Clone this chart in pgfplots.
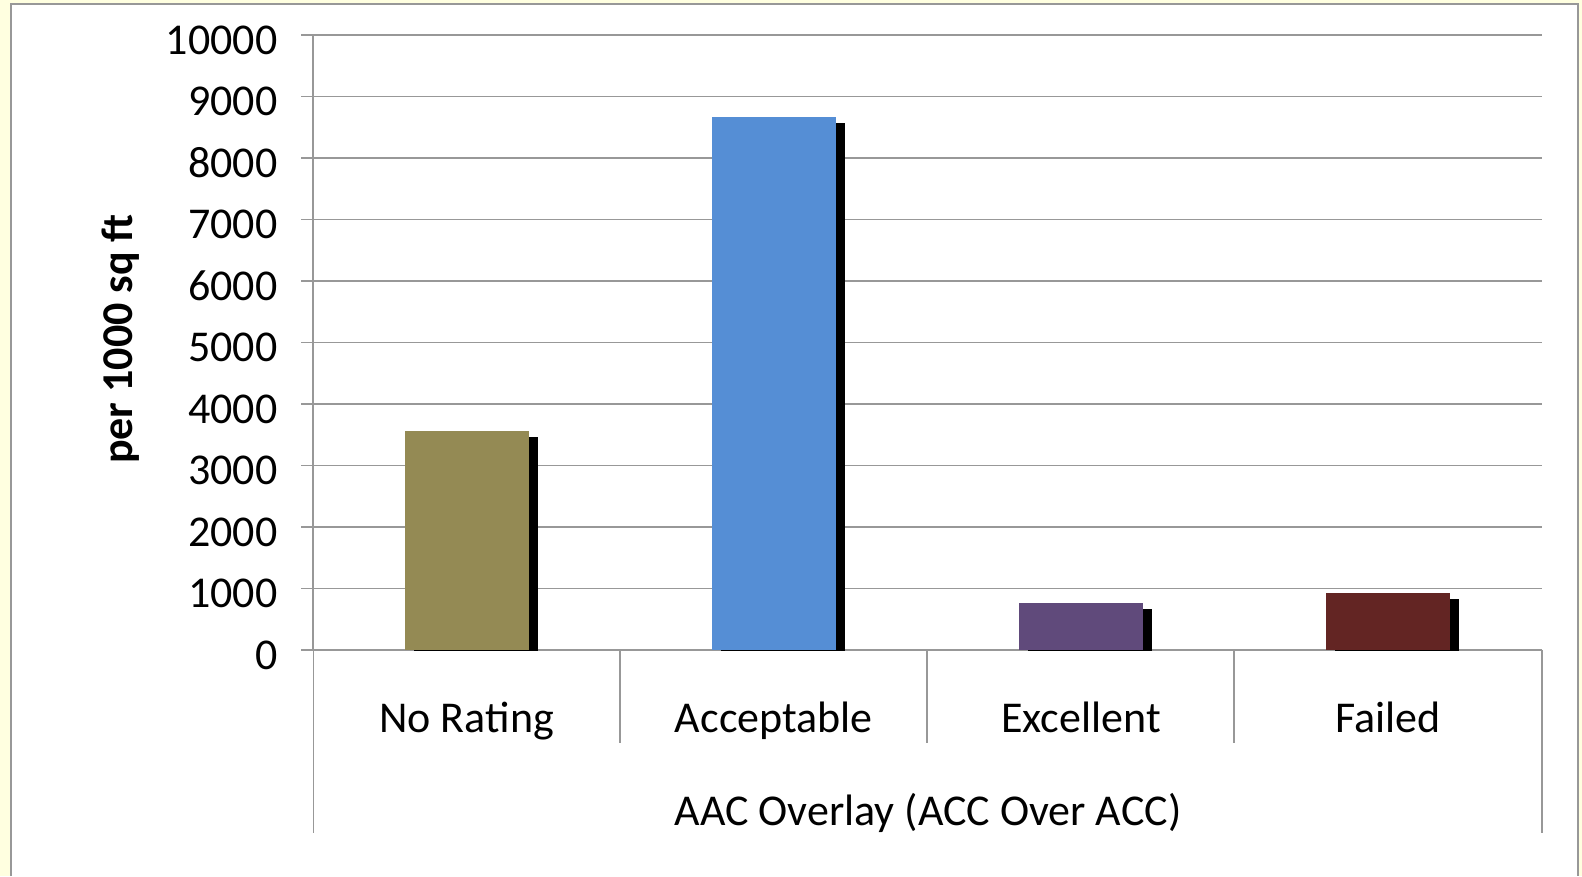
\documentclass[border=0pt]{standalone}
\usepackage{pgfplots}
\pgfplotsset{compat=1.18}
\usepackage{fontspec}
\setmainfont{Carlito}
\usetikzlibrary{shadows}
\definecolor{bgyellow}{RGB}{255,255,224}
\definecolor{gridgray}{RGB}{152,152,152}
\definecolor{barolive}{RGB}{148,138,84}
\definecolor{barblue}{RGB}{85,142,213}
\definecolor{barpurple}{RGB}{96,74,123}
\definecolor{barred}{RGB}{99,37,35}
\begin{document}
\begin{tikzpicture}[x=1pt,y=1pt]
\useasboundingbox (0,0) rectangle (1582,876);
\fill[bgyellow] (0,0) rectangle (1582,876);
\fill[white] (11,0) rectangle (1578,872);
\draw[gridgray, line width=2pt] (11,0) -- (11,872) -- (1578,872) -- (1578,0);
\begin{axis}[
  at={(313pt,226pt)}, anchor=south west, scale only axis,
  width=1229pt, height=615pt,
  xmin=-0.5, xmax=3.5, ymin=0, ymax=10000,
  axis x line=bottom, axis y line=left,
  axis line style={-, draw=gridgray, line width=1.5pt},
  ytick={0,1000,...,10000}, ymajorgrids,
  scaled y ticks=false,
  grid style={gridgray, line width=1.3pt},
  tick align=outside, major tick length=12pt,
  tick style={gridgray, line width=1.3pt},
  xtick={0,1,2,3}, xticklabels={No Rating,Acceptable,Excellent,Failed},
  xtick style={draw=none},
  font=\fontsize{44}{53}\selectfont,
  /pgf/number format/assume math mode=true,
  /pgf/number format/1000 sep={},
  yticklabel style={anchor=east, xshift=-20pt, yshift=-5pt},
  xticklabel style={anchor=base, yshift=-70pt},
]
\addplot[ybar, bar width=124pt, bar shift=0pt, fill=barolive, draw=none,
  drop shadow={shadow xshift=9pt, shadow yshift=-6pt, fill=black, opacity=1}]
  coordinates {(0,3565)};
\addplot[ybar, bar width=124pt, bar shift=0pt, fill=barblue, draw=none,
  drop shadow={shadow xshift=9pt, shadow yshift=-6pt, fill=black, opacity=1}]
  coordinates {(1,8660)};
\addplot[ybar, bar width=124pt, bar shift=0pt, fill=barpurple, draw=none,
  drop shadow={shadow xshift=9pt, shadow yshift=-6pt, fill=black, opacity=1}]
  coordinates {(2,765)};
\addplot[ybar, bar width=124pt, bar shift=0pt, fill=barred, draw=none,
  drop shadow={shadow xshift=9pt, shadow yshift=-6pt, fill=black, opacity=1}]
  coordinates {(3,930)};
\end{axis}
% category separators
\draw[gridgray, line width=1.5pt] (313.5,226) -- (313.5,43);
\draw[gridgray, line width=1.5pt] (1542,226) -- (1542,43);
\draw[gridgray, line width=1.3pt] (620,226) -- (620,133);
\draw[gridgray, line width=1.3pt] (927,226) -- (927,133);
\draw[gridgray, line width=1.3pt] (1234,226) -- (1234,133);
\node[anchor=base, font=\fontsize{44}{53}\selectfont] at (928,51) {AAC Overlay (ACC Over ACC)};
\node[rotate=90, anchor=base, font=\fontsize{44}{53}\selectfont\bfseries] at (132,537) {per 1000 sq ft};
\end{tikzpicture}
\end{document}
